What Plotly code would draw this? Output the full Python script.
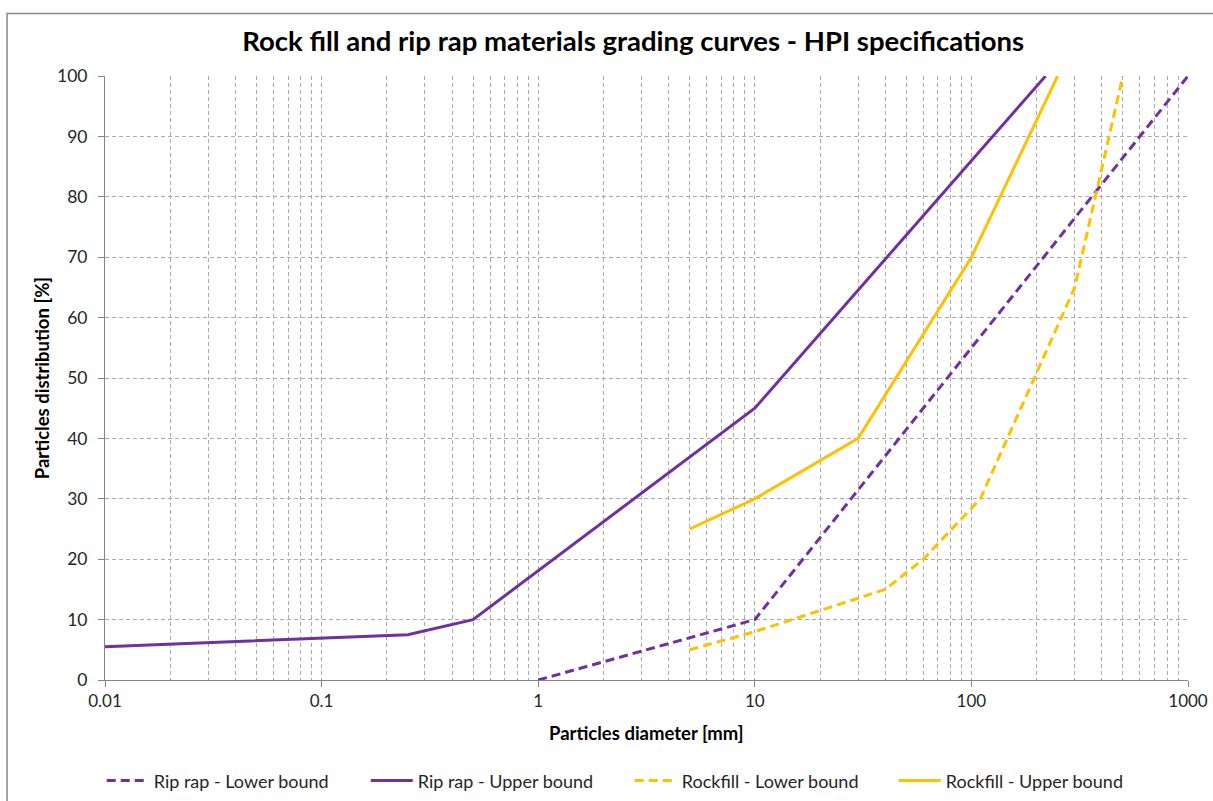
import plotly.graph_objects as go

# Grading curve data: particle diameter [mm] vs. passing distribution [%]
riprap_lower_d = [1, 10, 100, 1000]
riprap_lower_p = [0, 10, 55, 100]

riprap_upper_d = [0.01, 0.25, 0.5, 10, 220]
riprap_upper_p = [5.5, 7.5, 10, 45, 100]

rockfill_lower_d = [5, 10, 40, 60, 110, 300, 500]
rockfill_lower_p = [5, 8, 15, 20, 30, 65, 100]

rockfill_upper_d = [5, 10, 30, 100, 250]
rockfill_upper_p = [25, 30, 40, 70, 100]

x_tick_vals = [0.01, 0.1, 1, 10, 100, 1000]
x_tick_text = ["0.01", "0.1", "1", "10", "100", "1000"]

PURPLE = "#7030A0"
GOLD = "#FFC000"
FONT = "Lato"
GRID = "#ABABAB"
AXIS = "#868686"

fig = go.Figure()

series = [
    ("Rip rap - Lower bound", riprap_lower_d, riprap_lower_p, PURPLE, "9px,5px"),
    ("Rip rap - Upper bound", riprap_upper_d, riprap_upper_p, PURPLE, "solid"),
    ("Rockfill - Lower bound", rockfill_lower_d, rockfill_lower_p, GOLD, "9px,5px"),
    ("Rockfill - Upper bound", rockfill_upper_d, rockfill_upper_p, GOLD, "solid"),
]
for name, xs, ys, color, dash in series:
    fig.add_trace(go.Scatter(
        x=xs, y=ys, name=name, mode="lines",
        line=dict(color=color, width=3, dash=dash),
    ))

fig.update_layout(
    width=1213, height=801,
    margin=dict(l=105, r=25, t=76, b=121, autoexpand=False),
    paper_bgcolor="white", plot_bgcolor="white",
    font=dict(family=FONT, size=17, color="#262626"),
    title=dict(
        text="<b>Rock fill and rip rap materials grading curves - HPI specifications</b>",
        x=0.522, xanchor="center", y=0.948, yanchor="middle",
        font=dict(family=FONT, size=27.5, color="#000000"),
    ),
    xaxis=dict(
        type="log", range=[-2, 3], automargin=False,
        tickvals=x_tick_vals, ticktext=x_tick_text,
        showgrid=True, gridcolor=GRID, griddash="4px,3px", gridwidth=1,
        minor=dict(dtick="D1", showgrid=True, gridcolor=GRID,
                   griddash="4px,3px", gridwidth=1, ticks=""),
        showline=True, linecolor=AXIS, linewidth=1,
        ticks="outside", ticklen=6, tickcolor=AXIS,
        zeroline=False, tickfont=dict(size=17),
    ),
    yaxis=dict(
        range=[0, 100], dtick=10, automargin=False,
        showgrid=True, gridcolor=GRID, griddash="4px,3px", gridwidth=1,
        showline=True, linecolor=AXIS, linewidth=1,
        ticks="outside", ticklen=6, tickcolor=AXIS, ticklabelstandoff=7,
        zeroline=False, tickfont=dict(size=17.5),
    ),
    legend=dict(
        orientation="h", x=-0.003, xanchor="left",
        y=-0.167, yanchor="middle",
        entrywidth=207, entrywidthmode="pixels", itemwidth=42,
        font=dict(family=FONT, size=18, color="#262626"),
        bgcolor="rgba(0,0,0,0)",
    ),
    showlegend=True,
)

# Axis titles
fig.add_annotation(
    text="<b>Particles diameter [mm]</b>", xref="paper", yref="paper",
    x=0.5, y=-0.088, xanchor="center", yanchor="middle", showarrow=False,
    font=dict(family=FONT, size=18.5, color="#000000"),
)
fig.add_annotation(
    text="<b>Particles distribution [%]</b>", xref="paper", yref="paper",
    x=-0.058, y=0.5, xanchor="center", yanchor="middle", showarrow=False,
    textangle=-90, font=dict(family=FONT, size=18.5, color="#000000"),
)

# Chart frame
fig.add_shape(
    type="rect", xref="paper", yref="paper",
    x0=(7 - 105) / 1083, x1=(1225 - 105) / 1083,
    y0=(680 - 815) / 604, y1=(680 - 13.5) / 604,
    line=dict(color=AXIS, width=1.5), fillcolor="rgba(0,0,0,0)", layer="below",
)

fig.write_html("out.html")
